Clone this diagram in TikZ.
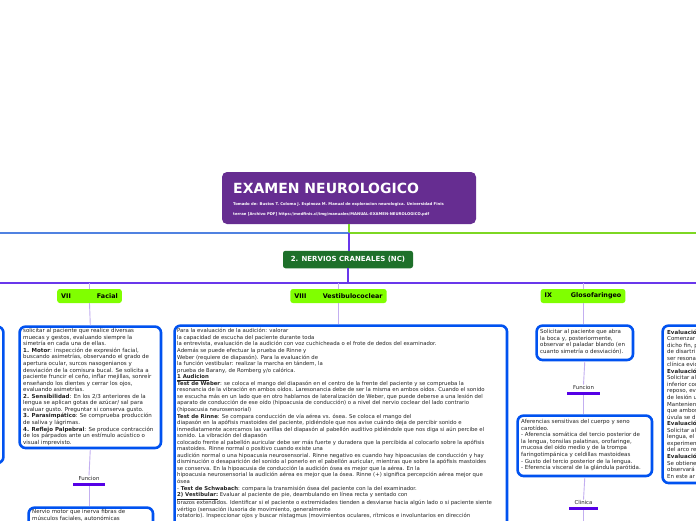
\documentclass[tikz,border=0pt]{standalone}
\usepackage{fontspec}
\setmainfont{DejaVu Sans}
\usepackage{tikz}
\usetikzlibrary{positioning}

\definecolor{titlepurple}{RGB}{102,45,145}
\definecolor{ncgreen}{RGB}{30,112,42}
\definecolor{lime}{RGB}{128,255,0}
\definecolor{boxblue}{RGB}{0,82,240}
\definecolor{violetline}{RGB}{105,55,235}
\definecolor{lavender}{RGB}{195,175,240}
\definecolor{tagbarcol}{RGB}{85,0,230}
\definecolor{leftblue}{RGB}{80,130,225}
\definecolor{rightgreen}{RGB}{125,215,35}
\definecolor{txt}{RGB}{35,35,35}

\begin{document}
\begin{tikzpicture}[%
    x=1pt, y=-1pt, inner sep=0pt,
    box/.style={draw=boxblue, line width=2.6pt, rounded corners=6pt, fill=white, anchor=north west},
    boxtext/.style={anchor=north west, align=left, text=txt, font=\fontsize{5.5}{6.55}\selectfont},
    nerve/.style={fill=lime, rounded corners=2.5pt, minimum height=14pt, inner xsep=4pt, font=\fontsize{6.4}{7}\selectfont\bfseries},
    tag/.style={text=txt, font=\fontsize{5.4}{6}\selectfont},
    tagbar/.style={fill=tagbarcol, minimum height=3pt},
    branch/.style={draw=lavender, line width=0.9pt}
  ]
    \useasboundingbox (0,0) rectangle (696,520);
    \fill[white] (0,0) rectangle (696,520);
    \clip (0,0) rectangle (696,520);

    % title
    \node[fill=titlepurple, rounded corners=5pt, minimum width=254pt, minimum height=52pt] (title) at (349,198) {};
    \node[anchor=west, text=white, font=\fontsize{14}{16}\selectfont\bfseries] (titlemain) at (233,188) {EXAMEN NEUROLOGICO};
    \node[anchor=base west, text=white, font=\fontsize{3.8}{4}\selectfont\bfseries] (src1) at (233,205.2)
      {Tomado de: Bustos T. Coloma J. Espinoza M. Manual de exploracion neurologica. Universidad Finis};
    \node[anchor=base west, text=white, font=\fontsize{3.8}{4}\selectfont\bfseries] (src2) at (233,215.2)
      {terrae [Archivo PDF] https://medfinis.cl/img/manuales/MANUAL-EXAMEN-NEUROLOGICO.pdf};

    \coordinate (leftend) at (-4,233);
    \coordinate (rightend) at (700,233);
    \draw[rightgreen, line width=1.4pt] (title.south) -- (title.south |- 0,233) coordinate (split);
    \draw[rightgreen, line width=1.4pt] (split) -- (rightend);
    \draw[leftblue, line width=1.4pt] (leftend) -- (split);

    % nervios craneales
    \node[fill=ncgreen, rounded corners=2.5pt, minimum width=130pt, minimum height=17.5pt,
          text=white, font=\fontsize{7}{8}\selectfont\bfseries] (nc) at (348,259.5) {2. NERVIOS CRANEALES (NC)};
    \draw[violetline, line width=1.2pt] (split) -- (split |- nc.north);
    \draw[violetline, line width=1.2pt] (nc.south) -- (nc.south |- 0,283) coordinate (hub);
    \coordinate (farleft) at (-4,283);
    \coordinate (farright) at (700,283);
    \draw[violetline, line width=1.6pt] (farleft) -- (farright);

    \node[nerve] (vii) at (89.5,296) {VII\hspace{26pt}Facial};
    \node[nerve] (viii) at (338.5,296) {VIII\hspace{16.4pt}Vestibulococlear};
    \node[nerve] (ix) at (583,296) {IX\hspace{19pt}Glosofaringeo};
    \draw[branch] (vii.north |- hub) -- (vii.north);
    \draw[branch] (viii.north |- hub) -- (viii.north);
    \draw[branch] (ix.north |- hub) -- (ix.north);

    % cut box at the left edge
    \node[box, anchor=north east, minimum width=80pt, minimum height=136.4pt] (leftcut) at (4.7,325.3) {};

    % VII
    \node[box, minimum width=141.4pt, minimum height=121.4pt] (facbox) at (18.3,325.3) {};
    \node[boxtext] (factext) at (23,328.4) {solicitar al paciente que realice diversas\\
      muecas y gestos, evaluando siempre la\\
      simetría en cada una de ellas.\\
      \textbf{1. Motor}: inspección de expresión facial,\\
      buscando asimetrías, observando el grado de\\
      apertura ocular, surcos nasogenianos y\\
      desviación de la comisura bucal. Se solicita a\\
      paciente fruncir el ceño, inflar mejillas, sonreír\\
      enseñando los dientes y cerrar los ojos,\\
      evaluando asimetrías.\\
      \textbf{2. Sensibilidad}: En los 2/3 anteriores de la\\
      lengua se aplican gotas de azúcar/ sal para\\
      evaluar gusto. Preguntar si conserva gusto.\\
      \textbf{3. Parasimpático}: Se comprueba producción\\
      de saliva y lágrimas.\\
      \textbf{4. Reflejo Palpebral}: Se produce contracción\\
      de los párpados ante un estímulo acústico o\\
      visual imprevisto.};
    \draw[branch] (vii.south) -- (facbox.north);
    \node[tag] (fun1) at (89,478) {Funcion};
    \node[tagbar, minimum width=32pt, below=2.5pt of fun1] (fun1bar) {};
    \node[box, minimum width=124.4pt, minimum height=40pt] (facbox2) at (27.3,506.3) {};
    \node[boxtext] (factext2) at (32,509.4) {Nervio motor que inerva fibras de\\
      músculos faciales, autonómicas};
    \draw[branch] (facbox.south) -- (fun1.north);
    \draw[branch] (fun1bar.south) -- (fun1bar.south |- facbox2.north);

    % VIII
    \node[box, minimum width=332.4pt, minimum height=230pt] (vestbox) at (173.3,324.3) {};
    \node[boxtext, font=\fontsize{5.35}{6.55}\selectfont] (vesttext) at (177,328.4) {Para la evaluación de la audición: valorar\\
      la capacidad de escucha del paciente durante toda\\
      la entrevista, evaluación de la audición con voz cuchicheada o el frote de dedos del examinador.\\
      Además se puede efectuar la prueba de Rinne y\\
      Weber (requiere de diapasón). Para la evaluación de\\
      la función vestibular: realizar la marcha en tándem, la\\
      prueba de Barany, de Romberg y/o calórica.\\
      \underline{\textbf{1 Audicion}}\\
      \textbf{Test de Weber}: se coloca el mango del diapasón en el centro de la frente del paciente y se comprueba la\\
      resonancia de la vibración en ambos oídos. Laresonancia debe de ser la misma en ambos oídos. Cuando el sonido\\
      se escucha más en un lado que en otro hablamos de lateralización de Weber, que puede deberse a una lesión del\\
      aparato de conducción de ese oído (hipoacusia de conducción) o a nivel del nervio coclear del lado contrario\\
      (hipoacusia neurosensorial)\\
      \textbf{Test de Rinne}: Se compara conducción de vía aérea vs. ósea. Se coloca el mango del\\
      diapasón en la apófisis mastoides del paciente, pidiéndole que nos avise cuándo deja de percibir sonido e\\
      inmediatamente acercamos las varillas del diapasón al pabellón auditivo pidiéndole que nos diga si aún percibe el\\
      sonido. La vibración del diapasón\\
      colocado frente al pabellón auricular debe ser más fuerte y duradera que la percibida al colocarlo sobre la apófisis\\
      mastoides. Rinne normal o positivo cuando existe una\\
      audición normal o una hipoacusia neurosensorial. Rinne negativo es cuando hay hipoacusias de conducción y hay\\
      disminución o desaparición del sonido al ponerlo en el pabellón auricular, mientras que sobre la apófisis mastoides\\
      se conserva. En la hipoacusia de conducción la audición ósea es mejor que la aérea. En la\\
      hipoacusia neurosensorial la audición aérea es mejor que la ósea. Rinne (+) significa percepción aérea mejor que\\
      ósea\\
      - \textbf{Test de Schwabach}: compara la transmisión ósea del paciente con la del examinador.\\
      \underline{\textbf{2) Vestibular:}} Evaluar al paciente de pie, deambulando en línea recta y sentado con\\
      brazos extendidos. Identificar si el paciente o extremidades tienden a desviarse hacia algún lado o si paciente siente\\
      vértigo (sensación ilusoria de movimiento, generalmente\\
      rotatorio). Inspeccionar ojos y buscar nistagmus (movimientos oculares, rítmicos e involuntarios en dirección};
    \draw[branch] (viii.south) -- (viii.south |- vestbox.north);

    % IX
    \node[box, minimum width=96.4pt, minimum height=34.4pt] (glosbox) at (535.3,324.3) {};
    \node[boxtext] (glostext) at (540,329.4) {Solicitar al paciente que abra\\
      la boca y, posteriormente,\\
      observar el paladar blando (en\\
      cuanto simetría o desviación).};
    \draw[branch] (ix.south) -- (ix.south |- glosbox.north);
    \node[tag] (fun2) at (583.5,387) {Funcion};
    \node[tagbar, minimum width=33pt, below=2.5pt of fun2] (fun2bar) {};
    \draw[branch] (glosbox.south) -- (fun2.north);
    \node[box, minimum width=134.4pt, minimum height=60.4pt] (aferbox) at (516.3,414.3) {};
    \node[boxtext] (afertext) at (521,419.4) {Aferencias sensitivas del cuerpo y seno\\
      carotídeo.\\
      - Aferencia somática del tercio posterior de\\
      la lengua, tonsilas palatinas, orofaringe,\\
      mucosa del oído medio y de la trompa\\
      faringotimpánica y celdillas mastoideas\\
      - Gusto del tercio posterior de la lengua.\\
      - Eferencia visceral de la glándula parótida.};
    \draw[branch] (fun2bar.south) -- (fun2bar.south |- aferbox.north);
    \node[tag] (clin) at (583.5,502) {Clinica};
    \node[tagbar, minimum width=29pt, below=2.5pt of clin] (clinbar) {};
    \coordinate (ixend) at (583.5,525);
    \draw[branch] (aferbox.south) -- (clin.north);
    \draw[branch] (clinbar.south) -- (ixend);

    % cut box at the right edge
    \node[box, minimum width=80pt, minimum height=157.4pt] (vagbox) at (661.3,324.3) {};
    \node[boxtext] (vagtext) at (667,329.4) {\textbf{Evaluación}\\ Comenzar\\ dicho fin, p\\ de disartri\\
      ser resona\\ clínica evid\\ \textbf{Evaluación}\\ Solicitar al\\ inferior con\\ reposo, ev\\
      de lesión u\\ Mantenien\\ que ambos\\ úvula se d\\ \textbf{Evaluación}\\ Solicitar al\\
      lengua, el\\ experimen\\ del arco re\\ \textbf{Evaluación}\\ Se obtiene\\ observará\\ En este ar};
\end{tikzpicture}
\end{document}
